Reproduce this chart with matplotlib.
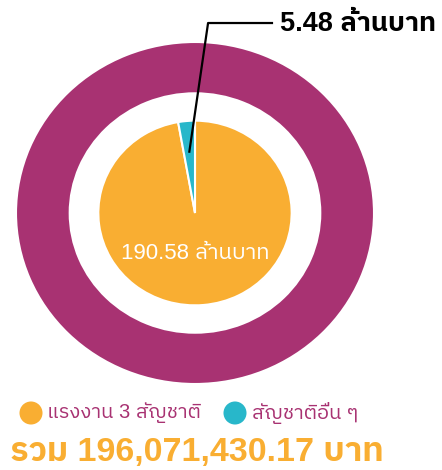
import numpy as np
import matplotlib
matplotlib.use('Agg')
import matplotlib.pyplot as plt
from matplotlib import font_manager
from matplotlib.ft2font import FT2Font

# amounts in million baht
groups = ['แรงงาน 3 สัญชาติ', 'สัญชาติอื่น ๆ']
amounts_mb = [190.58, 5.48]
amount_labels = ['190.58 ล้านบาท', '5.48 ล้านบาท']
total_label = 'รวม 196,071,430.17 บาท'

PURPLE = '#A83272'
ORANGE = '#F9AE32'
CYAN = '#28B7CA'


def find_thai_font():
    found = []
    for f in font_manager.fontManager.ttflist:
        try:
            if FT2Font(f.fname).get_char_index(ord('ก')):
                found.append(f.name)
        except Exception:
            pass
    found.sort(key=lambda n: ('Sans' not in n, n))
    return found[0] if found else None


thai = find_thai_font()
families = ['Liberation Sans']
if thai:
    families.append(thai)
families.append('DejaVu Sans')
plt.rcParams['font.family'] = families

W, H = 442, 470
fig = plt.figure(figsize=(W / 100, H / 100), dpi=100)
ax = fig.add_axes([16 / W, 86 / H, 358 / W, 342 / H])

# outer ring: the whole total
ax.pie([sum(amounts_mb)], radius=1, colors=[PURPLE], startangle=90,
       counterclock=False,
       wedgeprops=dict(width=0.30, edgecolor='white', linewidth=1.5))

# inner pie: split by group
wedges, _ = ax.pie(amounts_mb, radius=0.54, colors=[ORANGE, CYAN],
                   startangle=90, counterclock=False,
                   wedgeprops=dict(edgecolor='white', linewidth=1.5))
ax.set_aspect('auto')
ax.set_xlim(-1, 1)
ax.set_ylim(-1, 1)

ax.text(0, -0.234, amount_labels[0], color='white', fontsize=16,
        ha='center', va='center')

# leader line to the small slice
w = wedges[1]
mid = np.deg2rad((w.theta1 + w.theta2) / 2)
ax.plot([0.36 * np.cos(mid), 0.073, 0.43], [0.36 * np.sin(mid), 1.111, 1.111],
        color='black', lw=1.6, clip_on=False, zorder=5)
ax.text(0.475, 1.105, amount_labels[1], color='black', fontsize=19.5,
        fontweight='bold', ha='left', va='center', clip_on=False)

# legend and total
ov = fig.add_axes([0, 0, 1, 1])
ov.set_xlim(0, W)
ov.set_ylim(H, 0)
ov.axis('off')
ov.scatter([31, 235], [413, 413], s=275, color=[ORANGE, CYAN], linewidths=0)
ov.text(47, 413, groups[0], color=PURPLE, fontsize=14.5, va='center')
ov.text(252, 413, groups[1], color=PURPLE, fontsize=14.5, va='center')
ov.text(10, 452, total_label, color=ORANGE, fontsize=24.5, fontweight='bold',
        va='center')

fig.savefig('out.png', dpi=100)
